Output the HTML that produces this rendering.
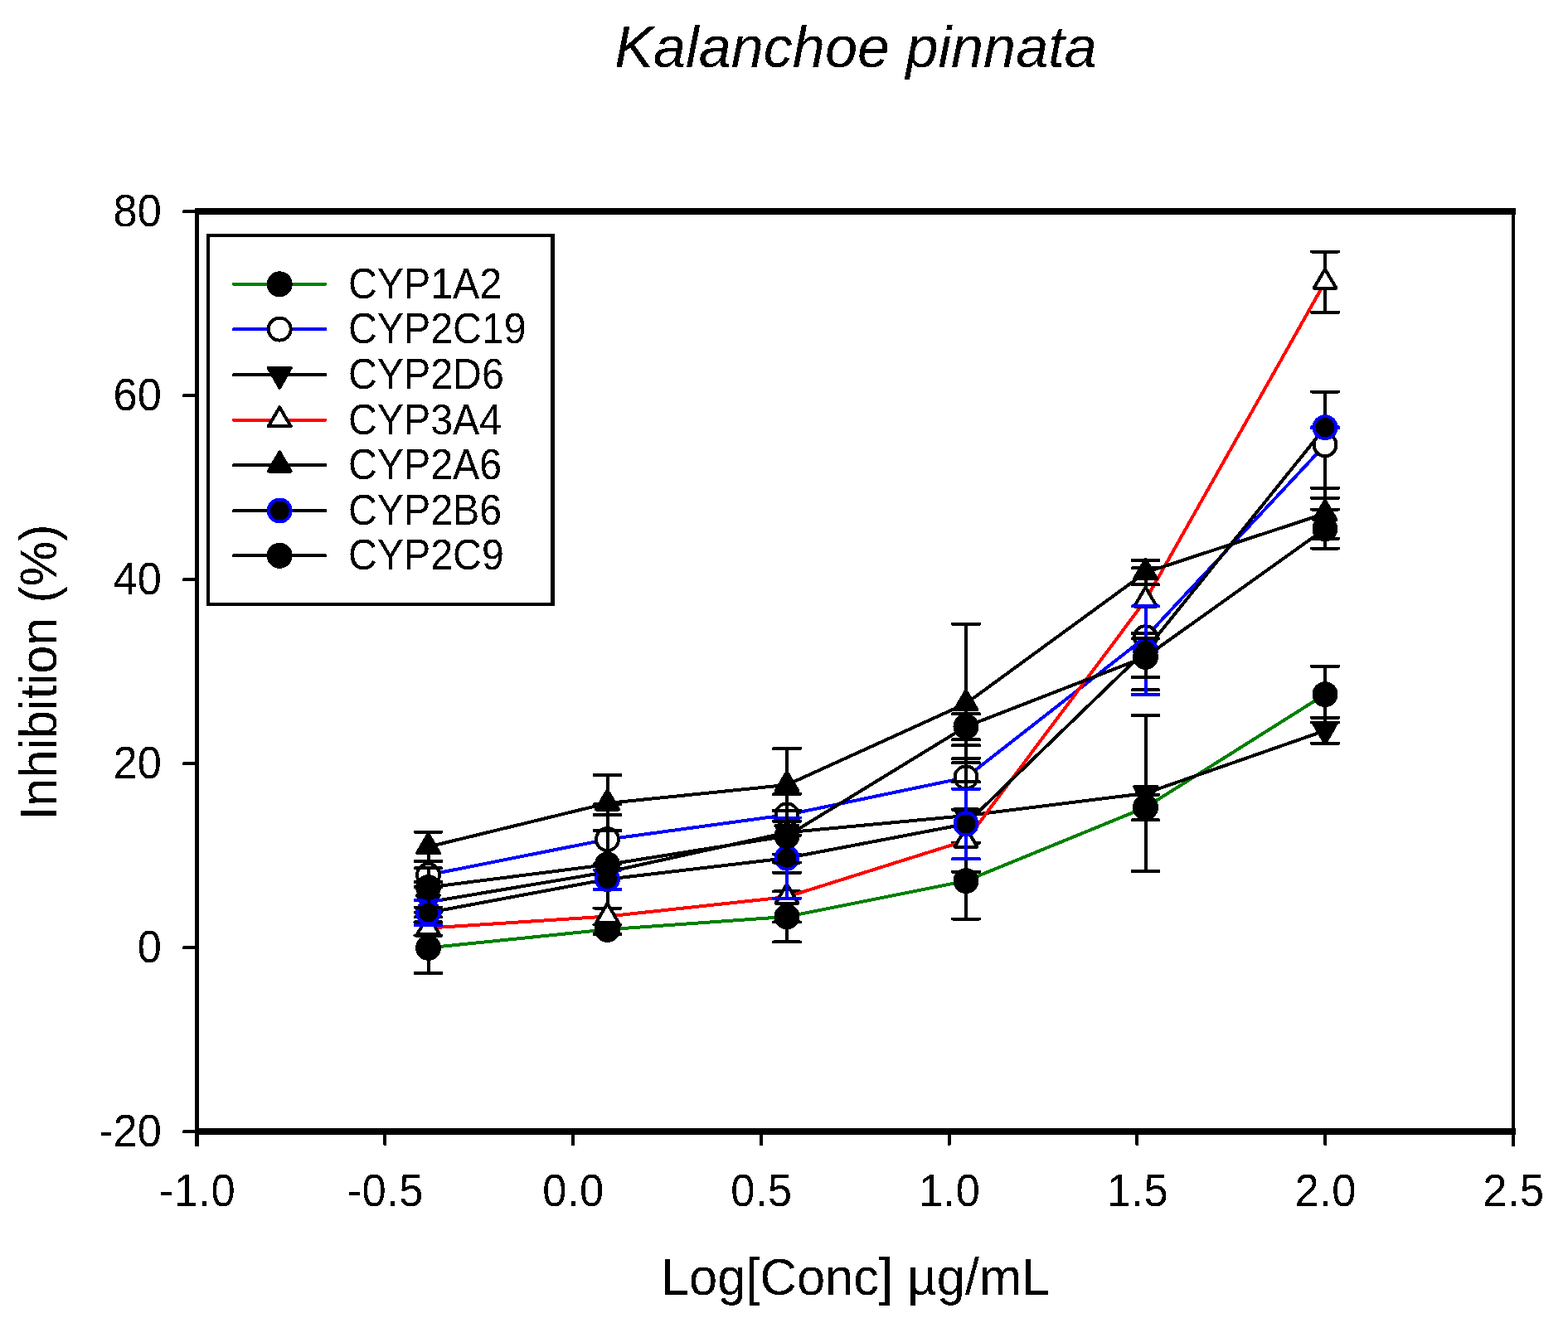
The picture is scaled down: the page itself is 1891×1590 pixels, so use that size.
<!DOCTYPE html>
<html lang="en"><head><meta charset="utf-8"><title>Kalanchoe pinnata</title>
<style>html,body{margin:0;padding:0;background:#fff}svg{display:block}text{font-family:"Liberation Sans",Arial,Helvetica,sans-serif;fill:#000;font-kerning:none}</style>
</head><body>
<svg width="1891" height="1590" viewBox="0 0 1891 1590" shape-rendering="crispEdges">
<rect x="0" y="0" width="1891" height="1590" fill="#fff"/>
<defs><filter id="thr" x="-5%" y="-20%" width="110%" height="140%" color-interpolation-filters="sRGB"><feComponentTransfer><feFuncA type="discrete" tableValues="0 1"/></feComponentTransfer></filter></defs>
<text filter="url(#thr)" x="1032" y="80.9" font-size="70.2" font-style="italic" text-anchor="middle">Kalanchoe pinnata</text>
<g>
<polyline points="516.50,1143.40 732.50,1121.30 949.00,1105.90 1165.00,1062.70 1381.50,974.00 1598.00,837.70" fill="none" stroke="#008000" stroke-width="4.0" stroke-linejoin="round" stroke-linecap="round"/>
<path d="M516.50 1112.60V1173.90M500.50 1112.60H532.50M500.50 1173.90H532.50M732.50 1115.50V1127.00M716.50 1115.50H748.50M716.50 1127.00H748.50M949.00 1075.40V1136.40M933.00 1075.40H965.00M933.00 1136.40H965.00M1165.00 1016.90V1108.60M1149.00 1016.90H1181.00M1149.00 1108.60H1181.00M1381.50 958.60V989.40M1365.50 958.60H1397.50M1365.50 989.40H1397.50M1598.00 803.80V871.60M1582.00 803.80H1614.00M1582.00 871.60H1614.00" fill="none" stroke="#000000" stroke-width="4.0" stroke-linecap="round"/>
<circle cx="516.50" cy="1143.40" r="15.5" fill="#000"/>
<circle cx="732.50" cy="1121.30" r="15.5" fill="#000"/>
<circle cx="949.00" cy="1105.90" r="15.5" fill="#000"/>
<circle cx="1165.00" cy="1062.70" r="15.5" fill="#000"/>
<circle cx="1381.50" cy="974.00" r="15.5" fill="#000"/>
<circle cx="1598.00" cy="837.70" r="15.5" fill="#000"/>
</g>
<g>
<polyline points="516.50,1055.50 732.50,1012.60 949.00,983.00 1165.00,937.90 1381.50,768.75 1598.00,536.75" fill="none" stroke="#0000ff" stroke-width="4.0" stroke-linejoin="round" stroke-linecap="round"/>
<path d="M516.50 1039.00V1070.00M500.50 1039.00H532.50M500.50 1070.00H532.50M732.50 982.90V1042.30M716.50 982.90H748.50M716.50 1042.30H748.50M949.00 958.00V1008.00M933.00 958.00H965.00M933.00 1008.00H965.00M1165.00 899.10V976.70M1149.00 899.10H1181.00M1149.00 976.70H1181.00M1381.50 705.20V832.30M1365.50 705.20H1397.50M1365.50 832.30H1397.50M1598.00 472.60V600.90M1582.00 472.60H1614.00M1582.00 600.90H1614.00M716.50 970.20H748.50" fill="none" stroke="#000000" stroke-width="4.0" stroke-linecap="round"/>
<circle cx="516.50" cy="1055.50" r="13.5" fill="#fff" stroke="#000" stroke-width="4"/>
<circle cx="732.50" cy="1012.60" r="13.5" fill="#fff" stroke="#000" stroke-width="4"/>
<circle cx="949.00" cy="983.00" r="13.5" fill="#fff" stroke="#000" stroke-width="4"/>
<circle cx="1165.00" cy="937.90" r="13.5" fill="#fff" stroke="#000" stroke-width="4"/>
<circle cx="1381.50" cy="768.75" r="13.5" fill="#fff" stroke="#000" stroke-width="4"/>
<circle cx="1598.00" cy="536.75" r="13.5" fill="#fff" stroke="#000" stroke-width="4"/>
</g>
<g>
<polyline points="516.50,1088.30 732.50,1052.00 949.00,1004.30 1165.00,984.00 1381.50,957.00 1598.00,881.40" fill="none" stroke="#000000" stroke-width="4.0" stroke-linejoin="round" stroke-linecap="round"/>
<path d="M516.50 1064.00V1112.50M500.50 1064.00H532.50M500.50 1112.50H532.50M732.50 1002.10V1095.50M716.50 1002.10H748.50M716.50 1095.50H748.50M949.00 978.20V1030.50M933.00 978.20H965.00M933.00 1030.50H965.00M1165.00 920.30V1051.90M1149.00 920.30H1181.00M1149.00 1051.90H1181.00M1381.50 862.90V1050.90M1365.50 862.90H1397.50M1365.50 1050.90H1397.50M1598.00 865.90V896.90M1582.00 865.90H1614.00M1582.00 896.90H1614.00M500.50 1100.80H532.50M500.50 1106.30H532.50" fill="none" stroke="#000000" stroke-width="4.0" stroke-linecap="round"/>
<path d="M516.50 1104.00L503.00 1080.10L530.00 1080.10Z" fill="#000" stroke="#000" stroke-width="4" stroke-linejoin="round"/>
<path d="M732.50 1067.70L719.00 1043.80L746.00 1043.80Z" fill="#000" stroke="#000" stroke-width="4" stroke-linejoin="round"/>
<path d="M949.00 1020.00L935.50 996.10L962.50 996.10Z" fill="#000" stroke="#000" stroke-width="4" stroke-linejoin="round"/>
<path d="M1165.00 999.70L1151.50 975.80L1178.50 975.80Z" fill="#000" stroke="#000" stroke-width="4" stroke-linejoin="round"/>
<path d="M1381.50 972.70L1368.00 948.80L1395.00 948.80Z" fill="#000" stroke="#000" stroke-width="4" stroke-linejoin="round"/>
<path d="M1598.00 897.10L1584.50 873.20L1611.50 873.20Z" fill="#000" stroke="#000" stroke-width="4" stroke-linejoin="round"/>
</g>
<g>
<polyline points="516.50,1119.60 732.50,1105.50 949.00,1082.00 1165.00,1014.00 1381.50,724.00 1598.00,340.20" fill="none" stroke="#ff0000" stroke-width="4.0" stroke-linejoin="round" stroke-linecap="round"/>
<path d="M516.50 1112.20V1128.50M500.50 1112.20H532.50M500.50 1128.50H532.50M949.00 1052.90V1112.40M933.00 1052.90H965.00M933.00 1112.40H965.00M1165.00 915.00V1108.60M1149.00 915.00H1181.00M1149.00 1108.60H1181.00M1381.50 685.40V763.90M1365.50 685.40H1397.50M1365.50 763.90H1397.50M1598.00 303.50V376.90M1582.00 303.50H1614.00M1582.00 376.90H1614.00" fill="none" stroke="#000000" stroke-width="4.0" stroke-linecap="round"/>
<path d="M516.50 1104.10L503.00 1127.10L530.00 1127.10Z" fill="#fff" stroke="#000" stroke-width="4" stroke-linejoin="round"/>
<path d="M732.50 1090.00L719.00 1113.00L746.00 1113.00Z" fill="#fff" stroke="#000" stroke-width="4" stroke-linejoin="round"/>
<path d="M949.00 1066.50L935.50 1089.50L962.50 1089.50Z" fill="#fff" stroke="#000" stroke-width="4" stroke-linejoin="round"/>
<path d="M1165.00 998.50L1151.50 1021.50L1178.50 1021.50Z" fill="#fff" stroke="#000" stroke-width="4" stroke-linejoin="round"/>
<path d="M1381.50 708.50L1368.00 731.50L1395.00 731.50Z" fill="#fff" stroke="#000" stroke-width="4" stroke-linejoin="round"/>
<path d="M1598.00 324.70L1584.50 347.70L1611.50 347.70Z" fill="#fff" stroke="#000" stroke-width="4" stroke-linejoin="round"/>
</g>
<g>
<polyline points="516.50,1021.60 732.50,969.00 949.00,946.90 1165.00,848.70 1381.50,690.60 1598.00,619.50" fill="none" stroke="#000000" stroke-width="4.0" stroke-linejoin="round" stroke-linecap="round"/>
<path d="M516.50 1003.80V1039.00M500.50 1003.80H532.50M500.50 1039.00H532.50M732.50 934.90V1002.10M716.50 934.90H748.50M716.50 1002.10H748.50M949.00 903.00V990.70M933.00 903.00H965.00M933.00 990.70H965.00M1165.00 752.90V943.30M1149.00 752.90H1181.00M1149.00 943.30H1181.00M1381.50 676.00V705.20M1365.50 676.00H1397.50M1365.50 705.20H1397.50M1598.00 588.90V650.00M1582.00 588.90H1614.00M1582.00 650.00H1614.00" fill="none" stroke="#000000" stroke-width="4.0" stroke-linecap="round"/>
<path d="M516.50 1006.10L503.00 1029.10L530.00 1029.10Z" fill="#000" stroke="#000" stroke-width="4" stroke-linejoin="round"/>
<path d="M732.50 953.50L719.00 976.50L746.00 976.50Z" fill="#000" stroke="#000" stroke-width="4" stroke-linejoin="round"/>
<path d="M949.00 931.40L935.50 954.40L962.50 954.40Z" fill="#000" stroke="#000" stroke-width="4" stroke-linejoin="round"/>
<path d="M1165.00 833.20L1151.50 856.20L1178.50 856.20Z" fill="#000" stroke="#000" stroke-width="4" stroke-linejoin="round"/>
<path d="M1381.50 675.10L1368.00 698.10L1395.00 698.10Z" fill="#000" stroke="#000" stroke-width="4" stroke-linejoin="round"/>
<path d="M1598.00 604.00L1584.50 627.00L1611.50 627.00Z" fill="#000" stroke="#000" stroke-width="4" stroke-linejoin="round"/>
</g>
<g>
<polyline points="516.50,1101.00 732.50,1060.70 949.00,1035.15 1165.00,994.00 1381.50,784.60 1598.00,515.70" fill="none" stroke="#000000" stroke-width="4.0" stroke-linejoin="round" stroke-linecap="round"/>
<path d="M516.50 1085.90V1116.00M500.50 1085.90H532.50M500.50 1116.00H532.50M732.50 1049.60V1073.10M716.50 1049.60H748.50M716.50 1073.10H748.50M949.00 986.50V1083.80M933.00 986.50H965.00M933.00 1083.80H965.00M1165.00 951.80V1036.30M1149.00 951.80H1181.00M1149.00 1036.30H1181.00M1381.50 731.30V837.90M1365.50 731.30H1397.50M1365.50 837.90H1397.50M1598.00 515.20V516.20M1582.00 515.20H1614.00M1582.00 516.20H1614.00" fill="none" stroke="#0000ff" stroke-width="4.0" stroke-linecap="round"/>
<circle cx="516.50" cy="1101.00" r="13.5" fill="#000" stroke="#0000ff" stroke-width="4"/>
<circle cx="732.50" cy="1060.70" r="13.5" fill="#000" stroke="#0000ff" stroke-width="4"/>
<circle cx="949.00" cy="1035.15" r="13.5" fill="#000" stroke="#0000ff" stroke-width="4"/>
<circle cx="1165.00" cy="994.00" r="13.5" fill="#000" stroke="#0000ff" stroke-width="4"/>
<circle cx="1381.50" cy="784.60" r="13.5" fill="#000" stroke="#0000ff" stroke-width="4"/>
<circle cx="1598.00" cy="515.70" r="13.5" fill="#000" stroke="#0000ff" stroke-width="4"/>
</g>
<g>
<polyline points="516.50,1070.50 732.50,1043.00 949.00,1008.60 1165.00,876.50 1381.50,792.50 1598.00,638.00" fill="none" stroke="#000000" stroke-width="4.0" stroke-linejoin="round" stroke-linecap="round"/>
<path d="M516.50 1047.40V1094.60M500.50 1047.40H532.50M500.50 1094.60H532.50M949.00 977.50V1040.50M933.00 977.50H965.00M933.00 1040.50H965.00M1165.00 861.20V892.10M1149.00 861.20H1181.00M1149.00 892.10H1181.00M1381.50 770.20V816.90M1365.50 770.20H1397.50M1365.50 816.90H1397.50M1598.00 614.50V661.60M1582.00 614.50H1614.00M1582.00 661.60H1614.00" fill="none" stroke="#000000" stroke-width="4.0" stroke-linecap="round"/>
<circle cx="516.50" cy="1070.50" r="15.5" fill="#000"/>
<circle cx="732.50" cy="1043.00" r="15.5" fill="#000"/>
<circle cx="949.00" cy="1008.60" r="15.5" fill="#000"/>
<circle cx="1165.00" cy="876.50" r="15.5" fill="#000"/>
<circle cx="1381.50" cy="792.50" r="15.5" fill="#000"/>
<circle cx="1598.00" cy="638.00" r="15.5" fill="#000"/>
</g>
<g stroke="#000" fill="none">
<line x1="237.5" y1="255.0" x2="237.5" y2="1382.5" stroke-width="5"/>
<line x1="1825.0" y1="255.0" x2="1825.0" y2="1382.5" stroke-width="4.5"/>
<line x1="235.0" y1="255.0" x2="1828.0" y2="255.0" stroke-width="7.8"/>
<line x1="235.0" y1="1365.0" x2="1828.0" y2="1365.0" stroke-width="7.8"/>
<path d="M222.00 255.00H237.50M222.00 477.00H237.50M222.00 699.00H237.50M222.00 921.00H237.50M222.00 1143.00H237.50M222.00 1365.00H237.50M464.29 1365.00V1380.50M691.07 1365.00V1380.50M917.86 1365.00V1380.50M1144.64 1365.00V1380.50M1371.43 1365.00V1380.50M1598.21 1365.00V1380.50" stroke-width="4" stroke-linecap="round"/>
</g>
<text filter="url(#thr)" transform="translate(195 272.70) scale(1 1.05)" font-size="52.5" text-anchor="end">80</text>
<text filter="url(#thr)" transform="translate(195 494.70) scale(1 1.05)" font-size="52.5" text-anchor="end">60</text>
<text filter="url(#thr)" transform="translate(195 716.70) scale(1 1.05)" font-size="52.5" text-anchor="end">40</text>
<text filter="url(#thr)" transform="translate(195 938.70) scale(1 1.05)" font-size="52.5" text-anchor="end">20</text>
<text filter="url(#thr)" transform="translate(195 1160.70) scale(1 1.05)" font-size="52.5" text-anchor="end">0</text>
<text filter="url(#thr)" transform="translate(195 1382.70) scale(1 1.05)" font-size="52.5" text-anchor="end">-20</text>
<text filter="url(#thr)" transform="translate(238.00 1454.8) scale(1 1.05)" font-size="52.5" letter-spacing="0.5" text-anchor="middle">-1.0</text>
<text filter="url(#thr)" transform="translate(464.79 1454.8) scale(1 1.05)" font-size="52.5" letter-spacing="0.5" text-anchor="middle">-0.5</text>
<text filter="url(#thr)" transform="translate(691.57 1454.8) scale(1 1.05)" font-size="52.5" letter-spacing="0.5" text-anchor="middle">0.0</text>
<text filter="url(#thr)" transform="translate(918.36 1454.8) scale(1 1.05)" font-size="52.5" letter-spacing="0.5" text-anchor="middle">0.5</text>
<text filter="url(#thr)" transform="translate(1145.14 1454.8) scale(1 1.05)" font-size="52.5" letter-spacing="0.5" text-anchor="middle">1.0</text>
<text filter="url(#thr)" transform="translate(1371.93 1454.8) scale(1 1.05)" font-size="52.5" letter-spacing="0.5" text-anchor="middle">1.5</text>
<text filter="url(#thr)" transform="translate(1598.71 1454.8) scale(1 1.05)" font-size="52.5" letter-spacing="0.5" text-anchor="middle">2.0</text>
<text filter="url(#thr)" transform="translate(1825.50 1454.8) scale(1 1.05)" font-size="52.5" letter-spacing="0.5" text-anchor="middle">2.5</text>
<text filter="url(#thr)" transform="translate(1031.6 1562) scale(1 1.03)" font-size="61.5" text-anchor="middle">Log[Conc] µg/mL</text>
<text filter="url(#thr)" transform="translate(67.9 811) rotate(-90) scale(1 1.03)" font-size="61.25" text-anchor="middle">Inhibition (%)</text>
<rect x="251" y="284" width="415.5" height="445" fill="#fff" stroke="#000" stroke-width="4.2"/>
<line x1="282" y1="342.8" x2="392.5" y2="342.8" stroke="#008000" stroke-width="4" stroke-linecap="round"/>
<circle cx="337.20" cy="342.80" r="15.5" fill="#000"/>
<text filter="url(#thr)" transform="translate(419.9 359.60) scale(1 1.055)" font-size="48.3">CYP1A2</text>
<line x1="282" y1="397.1" x2="392.5" y2="397.1" stroke="#0000ff" stroke-width="4" stroke-linecap="round"/>
<circle cx="337.20" cy="397.10" r="13.5" fill="#fff" stroke="#000" stroke-width="4"/>
<text filter="url(#thr)" transform="translate(419.9 413.90) scale(1 1.055)" font-size="48.3">CYP2C19</text>
<line x1="282" y1="452.0" x2="392.5" y2="452.0" stroke="#000000" stroke-width="4" stroke-linecap="round"/>
<path d="M337.20 467.70L323.70 443.80L350.70 443.80Z" fill="#000" stroke="#000" stroke-width="4" stroke-linejoin="round"/>
<text filter="url(#thr)" transform="translate(419.9 468.80) scale(1 1.055)" font-size="48.3">CYP2D6</text>
<line x1="282" y1="506.8" x2="392.5" y2="506.8" stroke="#ff0000" stroke-width="4" stroke-linecap="round"/>
<path d="M337.20 491.30L323.70 514.30L350.70 514.30Z" fill="#fff" stroke="#000" stroke-width="4" stroke-linejoin="round"/>
<text filter="url(#thr)" transform="translate(419.9 523.60) scale(1 1.055)" font-size="48.3">CYP3A4</text>
<line x1="282" y1="561.0" x2="392.5" y2="561.0" stroke="#000000" stroke-width="4" stroke-linecap="round"/>
<path d="M337.20 545.50L323.70 568.50L350.70 568.50Z" fill="#000" stroke="#000" stroke-width="4" stroke-linejoin="round"/>
<text filter="url(#thr)" transform="translate(419.9 577.80) scale(1 1.055)" font-size="48.3">CYP2A6</text>
<line x1="282" y1="616.0" x2="392.5" y2="616.0" stroke="#000000" stroke-width="4" stroke-linecap="round"/>
<circle cx="337.20" cy="616.00" r="13.5" fill="#000" stroke="#0000ff" stroke-width="4"/>
<text filter="url(#thr)" transform="translate(419.9 632.80) scale(1 1.055)" font-size="48.3">CYP2B6</text>
<line x1="282" y1="670.3" x2="392.5" y2="670.3" stroke="#000000" stroke-width="4" stroke-linecap="round"/>
<circle cx="337.20" cy="670.30" r="15.5" fill="#000"/>
<text filter="url(#thr)" transform="translate(419.9 687.10) scale(1 1.055)" font-size="48.3">CYP2C9</text>
</svg>
</body></html>
